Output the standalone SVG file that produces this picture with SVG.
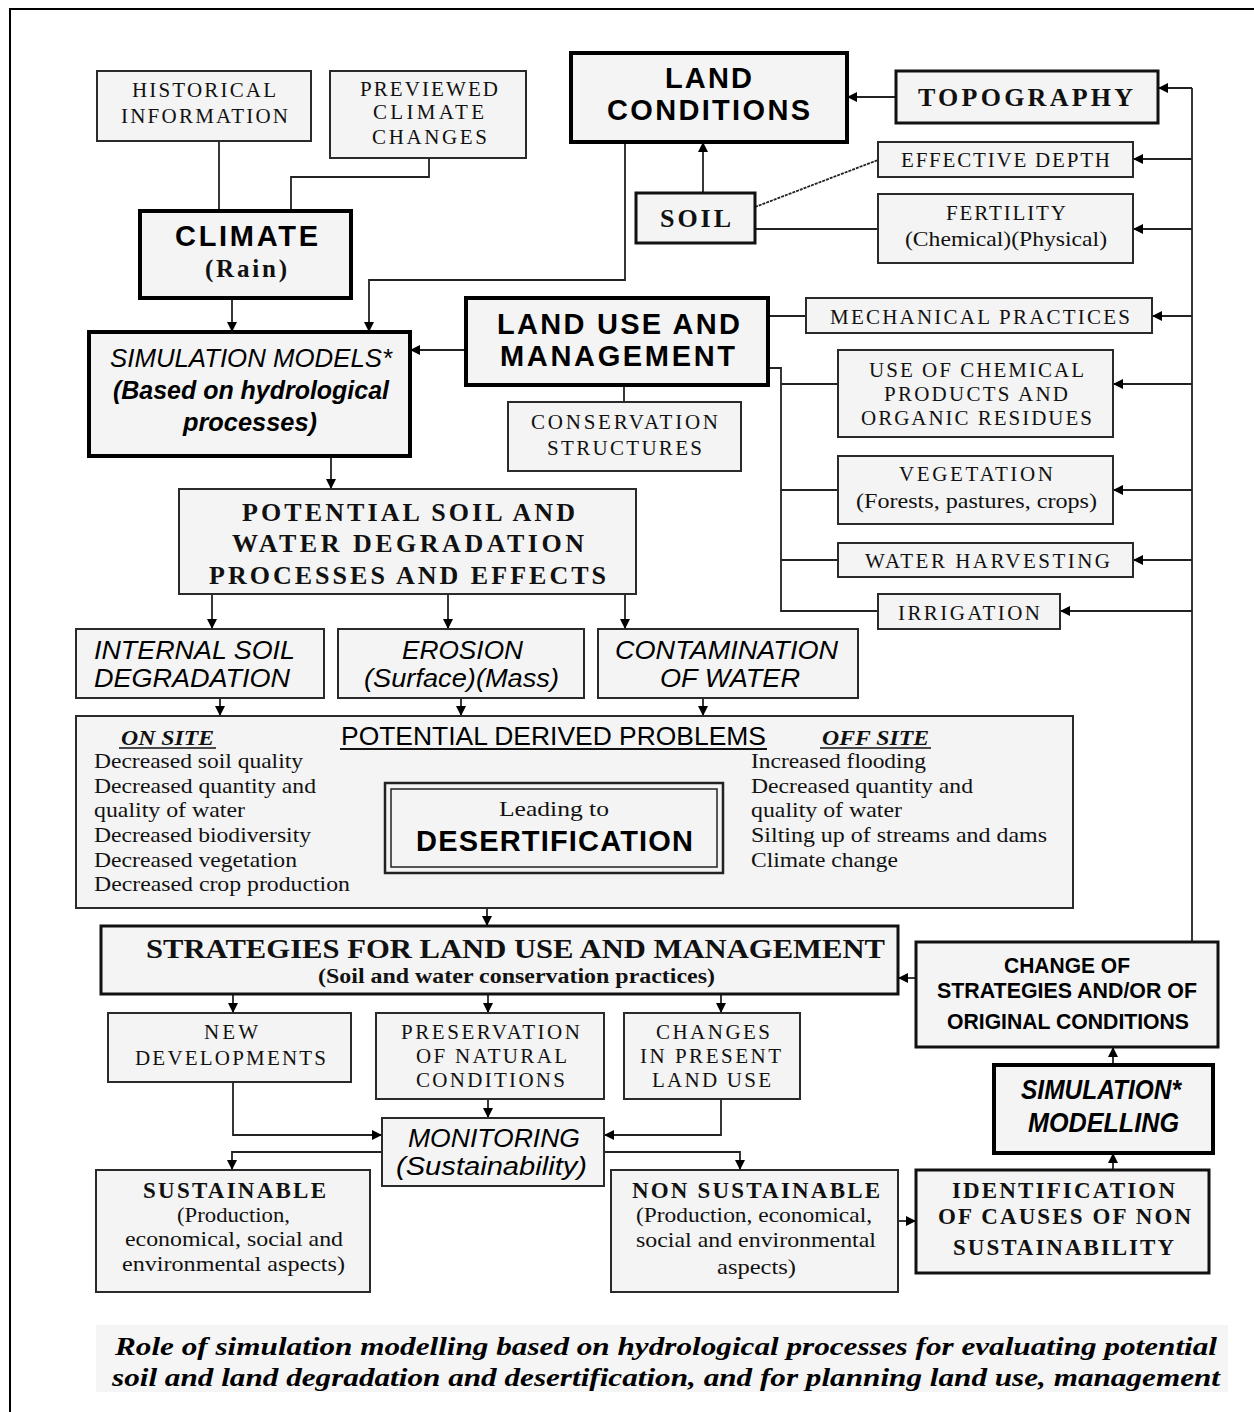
<svg xmlns="http://www.w3.org/2000/svg" width="1254" height="1412" viewBox="0 0 1254 1412">
  <style>
    .box { fill:#f4f4f4; stroke:#2a2a2a; stroke-width:2 }
    .mid { fill:#f4f4f4; stroke:#111; stroke-width:3 }
    .thick { fill:#f4f4f4; stroke:#000; stroke-width:4 }
    .conn { fill:none; stroke:#222; stroke-width:1.8 }
    .ser { font-family:"Liberation Serif", serif; font-size:21px; fill:#111; text-anchor:middle }
    .serb { font-family:"Liberation Serif", serif; font-size:26px; font-weight:bold; fill:#111; text-anchor:middle }
    .sansb { font-family:"Liberation Sans", Arial, sans-serif; font-size:29px; font-weight:bold; fill:#000; text-anchor:middle }
    .sansi { font-family:"Liberation Sans", Arial, sans-serif; font-size:25px; font-style:italic; fill:#000; text-anchor:middle }
    .list { font-family:"Liberation Serif", serif; font-size:22px; fill:#111 }
    .cap { font-family:"Liberation Serif", serif; font-size:26px; font-weight:bold; font-style:italic; fill:#000 }
  </style>
  <defs>
    <marker id="arr" viewBox="0 0 10 10" refX="10" refY="5" markerWidth="10" markerHeight="10" markerUnits="userSpaceOnUse" orient="auto">
      <path d="M0,0 L10,5 L0,10 z" fill="#000"/>
    </marker>
    <clipPath id="capclip"><rect x="96" y="1325" width="1132" height="66"/></clipPath>
  </defs>

  <rect width="1254" height="1412" fill="#fff"/>
  <!-- page frame -->
  <path d="M10,1412 V9 H1254" fill="none" stroke="#000" stroke-width="2"/>

  <!-- connectors -->
  <g id="connectors">
    <path class="conn" d="M219,141 V211"/>
    <path class="conn" d="M429,158 V177 H291 V211"/>
    <path class="conn" d="M232,298 V332" marker-end="url(#arr)"/>
    <path class="conn" d="M625,142 V280 H369 V332" marker-end="url(#arr)"/>
    <path class="conn" d="M896,97 H847" marker-end="url(#arr)"/>
    <path class="conn" d="M703,193 V142" marker-end="url(#arr)"/>
    <path class="conn" d="M755,207 L878,160" stroke-dasharray="3,1"/>
    <path class="conn" d="M755,229 H878"/>
    <!-- feedback bus on the right -->
    <path class="conn" d="M1192,942 V88"/>
    <path class="conn" d="M1192,88 H1158" marker-end="url(#arr)"/>
    <path class="conn" d="M1192,159 H1133" marker-end="url(#arr)"/>
    <path class="conn" d="M1192,229 H1133" marker-end="url(#arr)"/>
    <path class="conn" d="M1192,316 H1152" marker-end="url(#arr)"/>
    <path class="conn" d="M1192,384 H1113" marker-end="url(#arr)"/>
    <path class="conn" d="M1192,490 H1113" marker-end="url(#arr)"/>
    <path class="conn" d="M1192,560 H1133" marker-end="url(#arr)" stroke-width="3"/>
    <path class="conn" d="M1192,611 H1060" marker-end="url(#arr)"/>
    <!-- land use links -->
    <path class="conn" d="M466,350 H410" marker-end="url(#arr)"/>
    <path class="conn" d="M624,385 V402"/>
    <path class="conn" d="M768,316 H806"/>
    <path class="conn" d="M762,368 H781 V611 H878"/>
    <path class="conn" d="M781,384 H838"/>
    <path class="conn" d="M781,490 H838"/>
    <path class="conn" d="M781,560 H838" stroke-width="3"/>
    <!-- degradation chain -->
    <path class="conn" d="M331,456 V489" marker-end="url(#arr)"/>
    <path class="conn" d="M212,594 V629" marker-end="url(#arr)"/>
    <path class="conn" d="M448,594 V629" marker-end="url(#arr)"/>
    <path class="conn" d="M625,594 V629" marker-end="url(#arr)"/>
    <path class="conn" d="M220,698 V716" marker-end="url(#arr)"/>
    <path class="conn" d="M461,698 V716" marker-end="url(#arr)"/>
    <path class="conn" d="M703,698 V716" marker-end="url(#arr)"/>
    <path class="conn" d="M487,908 V926" marker-end="url(#arr)"/>
    <!-- strategies -->
    <path class="conn" d="M916,978 H898" marker-end="url(#arr)"/>
    <path class="conn" d="M233,994 V1013" marker-end="url(#arr)"/>
    <path class="conn" d="M488,994 V1013" marker-end="url(#arr)"/>
    <path class="conn" d="M721,994 V1013" marker-end="url(#arr)"/>
    <path class="conn" d="M1113,1065 V1047" marker-end="url(#arr)"/>
    <path class="conn" d="M1113,1170 V1153" marker-end="url(#arr)"/>
    <path class="conn" d="M898,1221 H916" marker-end="url(#arr)"/>
    <!-- monitoring -->
    <path class="conn" d="M488,1099 V1118" marker-end="url(#arr)"/>
    <path class="conn" d="M233,1082 V1135 H382" marker-end="url(#arr)" stroke-width="2.5"/>
    <path class="conn" d="M721,1099 V1135 H604" marker-end="url(#arr)" stroke-width="2.5"/>
    <path class="conn" d="M382,1152 H232 V1170" marker-end="url(#arr)" stroke-width="3"/>
    <path class="conn" d="M604,1152 H740 V1170" marker-end="url(#arr)" stroke-width="3"/>
  </g>

  <g id="historical">
    <rect class="box" x="97" y="71" width="214" height="70"/>
    <text class="ser" x="204" y="97" textLength="144">HISTORICAL</text>
    <text class="ser" x="204.5" y="123" textLength="167">INFORMATION</text>
  </g>
  <g id="previewed">
    <rect class="box" x="330" y="71" width="196" height="87"/>
    <text class="ser" x="429" y="96" textLength="138">PREVIEWED</text>
    <text class="ser" x="428.5" y="119" textLength="111">CLIMATE</text>
    <text class="ser" x="429.5" y="144" textLength="115">CHANGES</text>
  </g>
  <g id="land-conditions">
    <rect class="thick" x="571" y="53" width="276" height="89"/>
    <text class="sansb" x="708.5" y="88" textLength="87">LAND</text>
    <text class="sansb" x="708.5" y="120" textLength="203">CONDITIONS</text>
  </g>
  <g id="topography">
    <rect class="mid" x="896" y="71" width="262" height="52"/>
    <text class="serb" x="1025.5" y="106" textLength="215">TOPOGRAPHY</text>
  </g>
  <g id="effective-depth">
    <rect class="box" x="878" y="142" width="255" height="35"/>
    <text class="ser" x="1005.5" y="167" textLength="209">EFFECTIVE DEPTH</text>
  </g>
  <g id="soil">
    <rect class="mid" x="636" y="193" width="119" height="50"/>
    <text class="serb" x="695.5" y="227" textLength="71">SOIL</text>
  </g>
  <g id="fertility">
    <rect class="box" x="878" y="194" width="255" height="69"/>
    <text class="ser" x="1006" y="220" textLength="120">FERTILITY</text>
    <text class="ser" x="1006" y="246" textLength="202" lengthAdjust="spacingAndGlyphs">(Chemical)(Physical)</text>
  </g>
  <g id="climate">
    <rect class="thick" x="140" y="211" width="211" height="87"/>
    <text class="sansb" x="246.5" y="246" textLength="143">CLIMATE</text>
    <text class="serb" x="246" y="277" textLength="82" style="font-size:25px">(Rain)</text>
  </g>
  <g id="land-use">
    <rect class="thick" x="466" y="298" width="302" height="87"/>
    <text class="sansb" x="618.5" y="334" textLength="243">LAND USE AND</text>
    <text class="sansb" x="617.5" y="366" textLength="235">MANAGEMENT</text>
  </g>
  <g id="mechanical">
    <rect class="box" x="806" y="298" width="346" height="35"/>
    <text class="ser" x="980" y="324" textLength="300">MECHANICAL  PRACTICES</text>
  </g>
  <g id="simulation-models">
    <rect class="thick" x="89" y="332" width="321" height="124"/>
    <text class="sansi" x="251" y="367" textLength="282" lengthAdjust="spacingAndGlyphs" style="font-size:26px">SIMULATION MODELS*</text>
    <text class="sansi" x="251" y="399" textLength="276" lengthAdjust="spacingAndGlyphs" style="font-size:26px;font-weight:bold">(Based on hydrological</text>
    <text class="sansi" x="250" y="431" textLength="134" lengthAdjust="spacingAndGlyphs" style="font-size:26px;font-weight:bold">processes)</text>
  </g>
  <g id="chemical">
    <rect class="box" x="838" y="350" width="275" height="87"/>
    <text class="ser" x="976.5" y="377" textLength="215">USE OF CHEMICAL</text>
    <text class="ser" x="976" y="401" textLength="184">PRODUCTS AND</text>
    <text class="ser" x="976.5" y="425" textLength="231">ORGANIC RESIDUES</text>
  </g>
  <g id="conservation">
    <rect class="box" x="508" y="402" width="233" height="69"/>
    <text class="ser" x="624.5" y="429" textLength="187">CONSERVATION</text>
    <text class="ser" x="624.5" y="455" textLength="155">STRUCTURES</text>
  </g>
  <g id="vegetation">
    <rect class="box" x="838" y="456" width="275" height="68"/>
    <text class="ser" x="976" y="481" textLength="154">VEGETATION</text>
    <text class="ser" x="976.5" y="508" textLength="241" lengthAdjust="spacingAndGlyphs">(Forests, pastures, crops)</text>
  </g>
  <g id="potential-processes">
    <rect class="box" x="179" y="489" width="457" height="105" stroke-width="2.5"/>
    <text class="serb" x="408.5" y="521" textLength="333">POTENTIAL SOIL AND</text>
    <text class="serb" x="408" y="552" textLength="352">WATER DEGRADATION</text>
    <text class="serb" x="407.5" y="584" textLength="397">PROCESSES AND EFFECTS</text>
  </g>
  <g id="water-harvesting">
    <rect class="box" x="838" y="543" width="295" height="34"/>
    <text class="ser" x="987.5" y="568" textLength="245">WATER HARVESTING</text>
  </g>
  <g id="irrigation">
    <rect class="box" x="878" y="594" width="182" height="35"/>
    <text class="ser" x="969" y="620" textLength="142">IRRIGATION</text>
  </g>
  <g id="internal-soil">
    <rect class="box" x="76" y="629" width="248" height="69"/>
    <text class="sansi" x="94" y="659" textLength="201" lengthAdjust="spacingAndGlyphs" style="text-anchor:start">INTERNAL SOIL</text>
    <text class="sansi" x="94" y="687" textLength="196" lengthAdjust="spacingAndGlyphs" style="text-anchor:start">DEGRADATION</text>
  </g>
  <g id="erosion">
    <rect class="box" x="338" y="629" width="246" height="69"/>
    <text class="sansi" x="462.5" y="659" textLength="121" lengthAdjust="spacingAndGlyphs">EROSION</text>
    <text class="sansi" x="461.5" y="687" textLength="195" lengthAdjust="spacingAndGlyphs">(Surface)(Mass)</text>
  </g>
  <g id="contamination">
    <rect class="box" x="598" y="629" width="260" height="69"/>
    <text class="sansi" x="726.5" y="659" textLength="223" lengthAdjust="spacingAndGlyphs">CONTAMINATION</text>
    <text class="sansi" x="730" y="687" textLength="140" lengthAdjust="spacingAndGlyphs">OF WATER</text>
  </g>
  <g id="derived-problems">
    <rect class="box" x="76" y="716" width="997" height="192" stroke-width="2.5"/>
    <text x="121" y="745" class="list" textLength="93" lengthAdjust="spacingAndGlyphs" style="font-weight:bold;font-style:italic">ON SITE</text>
    <line x1="119" y1="748" x2="216" y2="748" stroke="#111" stroke-width="1.5"/>
    <text x="553.5" y="745" class="sansi" textLength="425" lengthAdjust="spacingAndGlyphs" style="font-style:normal;font-size:26px">POTENTIAL DERIVED PROBLEMS</text>
    <line x1="340" y1="749" x2="767" y2="749" stroke="#111" stroke-width="2"/>
    <text x="822" y="745" class="list" textLength="107" lengthAdjust="spacingAndGlyphs" style="font-weight:bold;font-style:italic">OFF SITE</text>
    <line x1="820" y1="748" x2="931" y2="748" stroke="#111" stroke-width="1.5"/>
    <text class="list" x="94" y="768" textLength="209" lengthAdjust="spacingAndGlyphs">Decreased soil quality</text>
    <text class="list" x="94" y="793" textLength="222" lengthAdjust="spacingAndGlyphs">Decreased quantity and</text>
    <text class="list" x="94" y="817" textLength="151" lengthAdjust="spacingAndGlyphs">quality of water</text>
    <text class="list" x="94" y="842" textLength="217" lengthAdjust="spacingAndGlyphs">Decreased biodiversity</text>
    <text class="list" x="94" y="867" textLength="203" lengthAdjust="spacingAndGlyphs">Decreased vegetation</text>
    <text class="list" x="94" y="891" textLength="256" lengthAdjust="spacingAndGlyphs">Decreased crop production</text>
    <text class="list" x="751" y="768" textLength="175" lengthAdjust="spacingAndGlyphs">Increased flooding</text>
    <text class="list" x="751" y="793" textLength="222" lengthAdjust="spacingAndGlyphs">Decreased quantity and</text>
    <text class="list" x="751" y="817" textLength="151" lengthAdjust="spacingAndGlyphs">quality of water</text>
    <text class="list" x="751" y="842" textLength="296" lengthAdjust="spacingAndGlyphs">Silting up of streams and dams</text>
    <text class="list" x="751" y="867" textLength="147" lengthAdjust="spacingAndGlyphs">Climate change</text>
  </g>
  <g id="desertification">
    <rect x="385" y="783" width="338" height="90" fill="#f4f4f4" stroke="#222" stroke-width="2.5"/>
    <rect x="391" y="789" width="326" height="78" fill="none" stroke="#222" stroke-width="1.5"/>
    <text class="ser" x="554" y="816" textLength="110" lengthAdjust="spacingAndGlyphs" style="font-size:22px">Leading to</text>
    <text class="sansb" x="554.5" y="851" textLength="277">DESERTIFICATION</text>
  </g>
  <g id="strategies">
    <rect class="mid" x="101" y="926" width="797" height="68"/>
    <text class="serb" x="515.5" y="958" textLength="739" lengthAdjust="spacingAndGlyphs" style="font-size:28px">STRATEGIES FOR LAND USE AND MANAGEMENT</text>
    <text class="serb" x="516.5" y="983" textLength="397" lengthAdjust="spacingAndGlyphs" style="font-size:20px">(Soil and water conservation practices)</text>
  </g>
  <g id="change-of-strategies">
    <rect class="mid" x="916" y="942" width="302" height="105" stroke-width="3.5"/>
    <text class="sansb" x="1067" y="973" textLength="126" lengthAdjust="spacingAndGlyphs" style="font-size:22px">CHANGE OF</text>
    <text class="sansb" x="1067" y="998" textLength="260" lengthAdjust="spacingAndGlyphs" style="font-size:22px">STRATEGIES AND/OR OF</text>
    <text class="sansb" x="1068" y="1029" textLength="242" lengthAdjust="spacingAndGlyphs" style="font-size:22px">ORIGINAL CONDITIONS</text>
  </g>
  <g id="new-developments">
    <rect class="box" x="108" y="1013" width="243" height="69"/>
    <text class="ser" x="231" y="1039" textLength="54">NEW</text>
    <text class="ser" x="230.5" y="1065" textLength="191">DEVELOPMENTS</text>
  </g>
  <g id="preservation">
    <rect class="box" x="376" y="1013" width="228" height="86"/>
    <text class="ser" x="490.5" y="1039" textLength="179">PRESERVATION</text>
    <text class="ser" x="491.5" y="1063" textLength="151">OF NATURAL</text>
    <text class="ser" x="490.5" y="1087" textLength="149">CONDITIONS</text>
  </g>
  <g id="changes-land-use">
    <rect class="box" x="624" y="1013" width="176" height="86"/>
    <text class="ser" x="713" y="1039" textLength="114">CHANGES</text>
    <text class="ser" x="710.5" y="1063" textLength="141">IN PRESENT</text>
    <text class="ser" x="711.5" y="1087" textLength="119">LAND USE</text>
  </g>
  <g id="simulation-modelling">
    <rect class="thick" x="994" y="1065" width="219" height="88"/>
    <text class="sansi" x="1101" y="1099" textLength="160" lengthAdjust="spacingAndGlyphs" style="font-size:27px;font-weight:bold">SIMULATION*</text>
    <text class="sansi" x="1103.5" y="1132" textLength="151" lengthAdjust="spacingAndGlyphs" style="font-size:27px;font-weight:bold">MODELLING</text>
  </g>
  <g id="monitoring">
    <rect class="box" x="382" y="1118" width="222" height="68"/>
    <text class="sansi" x="494" y="1147" textLength="172" lengthAdjust="spacingAndGlyphs">MONITORING</text>
    <text class="sansi" x="491.5" y="1175" textLength="191" lengthAdjust="spacingAndGlyphs">(Sustainability)</text>
  </g>
  <g id="sustainable">
    <rect class="box" x="96" y="1170" width="274" height="122"/>
    <text class="serb" x="234.5" y="1198" textLength="183" style="font-size:23px">SUSTAINABLE</text>
    <text class="ser" x="233.5" y="1222" textLength="113" lengthAdjust="spacingAndGlyphs">(Production,</text>
    <text class="ser" x="234" y="1246" textLength="218" lengthAdjust="spacingAndGlyphs">economical, social and</text>
    <text class="ser" x="233.5" y="1271" textLength="223" lengthAdjust="spacingAndGlyphs">environmental aspects)</text>
  </g>
  <g id="non-sustainable">
    <rect class="box" x="611" y="1170" width="287" height="122"/>
    <text class="serb" x="756" y="1198" textLength="248" style="font-size:23px">NON SUSTAINABLE</text>
    <text class="ser" x="754" y="1222" textLength="236" lengthAdjust="spacingAndGlyphs">(Production, economical,</text>
    <text class="ser" x="756" y="1247" textLength="240" lengthAdjust="spacingAndGlyphs">social and environmental</text>
    <text class="ser" x="756.5" y="1274" textLength="79" lengthAdjust="spacingAndGlyphs">aspects)</text>
  </g>
  <g id="identification">
    <rect class="mid" x="916" y="1170" width="293" height="103"/>
    <text class="serb" x="1063.5" y="1198" textLength="223" style="font-size:23px">IDENTIFICATION</text>
    <text class="serb" x="1064.5" y="1224" textLength="253" style="font-size:23px">OF CAUSES OF NON</text>
    <text class="serb" x="1063.5" y="1255" textLength="221" style="font-size:23px">SUSTAINABILITY</text>
  </g>

  <!-- caption -->
  <g id="caption">
    <rect x="96" y="1325" width="1132" height="67" fill="#f5f5f5"/>
    <g clip-path="url(#capclip)">
      <text class="cap" x="115" y="1355" textLength="1102" lengthAdjust="spacingAndGlyphs">Role of simulation modelling based on hydrological processes for evaluating potential</text>
      <text class="cap" x="112" y="1386" textLength="1108" lengthAdjust="spacingAndGlyphs">soil and land degradation and desertification, and for planning land use, management</text>
    </g>
  </g>
</svg>
